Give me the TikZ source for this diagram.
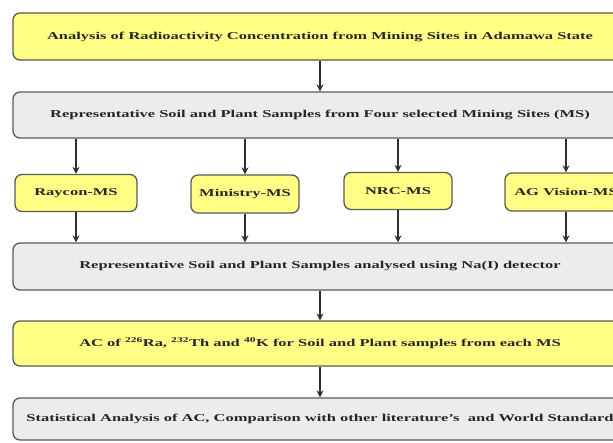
\documentclass[tikz,border=0pt]{standalone}
\usepackage{fontspec}
\setmainfont{Liberation Serif}[FakeStretch=1.57]
\usetikzlibrary{arrows.meta}
\definecolor{boxyellow}{HTML}{FFFF85}
\definecolor{boxgray}{HTML}{ECECEC}
\definecolor{edgec}{HTML}{5A5A5A}
\definecolor{arrowc}{HTML}{303030}
\begin{document}
\begin{tikzpicture}[x=1pt,y=-1pt,
  box/.style={draw=edgec, line width=1.3pt, rounded corners=7pt, inner sep=0pt,
    font=\bfseries\fontsize{10.5}{12}\selectfont, text=black!85},
  ybox/.style={box, fill=boxyellow},
  gbox/.style={box, fill=boxgray},
  arr/.style={draw=arrowc, line width=1.3pt, -{Stealth[length=7pt,width=7pt]}}]
\useasboundingbox (0,0) rectangle (613,442);
\clip (0,0) rectangle (613,442);
\fill[white] (0,0) rectangle (613,442);
% main boxes
\node[ybox, minimum width=614pt, minimum height=47pt] (b1) at (320,36.5)
  {Analysis of Radioactivity Concentration from Mining Sites in Adamawa State};
\node[gbox, minimum width=614pt, minimum height=46pt] (b2) at (320,115)
  {Representative Soil and Plant Samples from Four selected Mining Sites (MS)};
\node[gbox, minimum width=614pt, minimum height=47pt] (b3) at (320,266.5)
  {Representative Soil and Plant Samples analysed using Na(I) detector};
\node[ybox, minimum width=614pt, minimum height=45pt] (b4) at (320,343.5)
  {AC of \textsuperscript{226}Ra, \textsuperscript{232}Th and \textsuperscript{40}K for Soil and Plant samples from each MS};
\node[gbox, minimum width=614pt, minimum height=42pt] (b5) at (320,419)
  {Statistical Analysis of AC, Comparison with other literature's~ and World Standard};
% site boxes
\node[ybox, minimum width=122pt, minimum height=37pt] (s1) at (76,193) {Raycon-MS};
\node[ybox, minimum width=108pt, minimum height=38pt] (s2) at (245,194) {Ministry-MS};
\node[ybox, minimum width=108pt, minimum height=37pt] (s3) at (398,191) {NRC-MS};
\node[ybox, minimum width=122pt, minimum height=38pt] (s4) at (566,192) {AG Vision-MS};
% connectors
\draw[arr] (b1.south) -- (b2.north);
\foreach \s in {s1,s2,s3,s4}{
  \draw[arr] (b2.south -| \s) -- (\s.north);
  \draw[arr] (\s.south) -- (b3.north -| \s);
}
\draw[arr] (b3.south) -- (b4.north);
\draw[arr] (b4.south) -- (b5.north);
\end{tikzpicture}
\end{document}
